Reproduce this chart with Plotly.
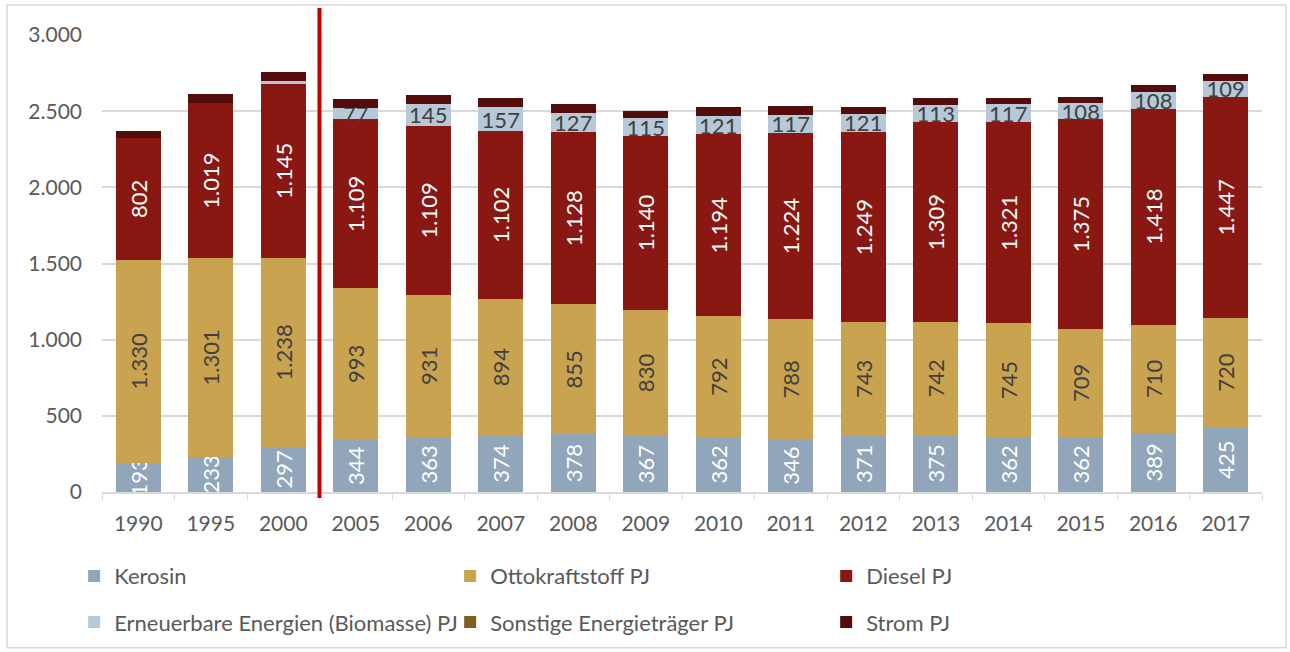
import plotly.graph_objects as go

# Jahre und Energieträger (PJ)
years = ['1990', '1995', '2000', '2005', '2006', '2007', '2008', '2009',
         '2010', '2011', '2012', '2013', '2014', '2015', '2016', '2017']

kerosin = [193, 233, 297, 344, 363, 374, 378, 367, 362, 346, 371, 375, 362, 362, 389, 425]
otto = [1330, 1301, 1238, 993, 931, 894, 855, 830, 792, 788, 743, 742, 745, 709, 710, 720]
diesel = [802, 1019, 1145, 1109, 1109, 1102, 1128, 1140, 1194, 1224, 1249, 1309, 1321, 1375, 1418, 1447]
erneuerbar = [0, 0, 15, 77, 145, 157, 127, 115, 121, 117, 121, 113, 117, 108, 108, 109]
sonstige = [0, 0, 0, 0, 0, 0, 0, 0, 0, 0, 0, 0, 0, 0, 0, 0]
strom = [46, 59, 59, 59, 59, 59, 59, 46, 59, 59, 46, 46, 39, 39, 46, 46]

# Labels for Erneuerbare only from 2005 onwards
erneuerbar_text = ['' if y in ('1990', '1995', '2000') else f'{v}' for y, v in zip(years, erneuerbar)]

FONT = 'Lato'
GREY = '#595959'
DARK = '#404040'
LABEL_SIZE = 22
TICK_SIZE = 21

fig = go.Figure()

series = [
  ('Kerosin', kerosin, '#91A5BB', 'white'),
  ('Ottokraftstoff PJ', otto, '#C9A34F', DARK),
  ('Diesel PJ', diesel, '#8A1812', 'white'),
]
for name, vals, color, tcolor in series:
  fig.add_trace(go.Bar(
    x=years, y=vals, name=name, legend='legend',
    marker=dict(color=color, line=dict(width=0)),
    texttemplate='%{y:,.0f}', textposition='inside', insidetextanchor='middle',
    textangle=-90, constraintext='none', cliponaxis=False,
    textfont=dict(family=FONT, size=LABEL_SIZE, color=tcolor)
  ))

fig.add_trace(go.Bar(
  x=years, y=erneuerbar, name='Erneuerbare Energien (Biomasse) PJ', legend='legend2',
  marker=dict(color='#B7C9D9', line=dict(width=0)),
  text=erneuerbar_text, textposition='inside', insidetextanchor='middle',
  textangle=0, constraintext='none', cliponaxis=False,
  textfont=dict(family=FONT, size=LABEL_SIZE, color=DARK)
))
fig.add_trace(go.Bar(
  x=years, y=sonstige, name='Sonstige Energieträger PJ', legend='legend2',
  marker=dict(color='#7F6126', line=dict(width=0)), textposition='none', cliponaxis=False
))
fig.add_trace(go.Bar(
  x=years, y=strom, name='Strom PJ', legend='legend2',
  marker=dict(color='#540D0B', line=dict(width=0)), textposition='none', cliponaxis=False
))

legend_common = dict(
  orientation='h', x=-0.024, xanchor='left', yanchor='middle',
  traceorder='normal', entrywidth=331, entrywidthmode='pixels', itemclick=False,
  font=dict(family=FONT, size=22, color=GREY), bgcolor='rgba(0,0,0,0)'
)

fig.update_layout(
  width=1290, height=652,
  barmode='stack', bargap=0.38,
  separators=',.',
  plot_bgcolor='white', paper_bgcolor='white',
  margin=dict(l=102, r=28, t=35, b=160, autoexpand=False),
  font=dict(family=FONT, size=TICK_SIZE, color=GREY),
  legend=dict(legend_common, y=-0.184),
  legend2=dict(legend_common, y=-0.285),
  xaxis=dict(
    type='category', showline=True, linecolor='#D9D9D9', linewidth=1.5,
    ticks='outside', tickson='boundaries', ticklen=6, tickcolor='#D9D9D9',
    ticklabelstandoff=12,
    tickfont=dict(family=FONT, size=TICK_SIZE, color=GREY), showgrid=False
  ),
  yaxis=dict(
    range=[0, 3000], dtick=500, tickformat=',.0f',
    showgrid=True, gridcolor='#D9D9D9', gridwidth=1.5, zeroline=False,
    ticklabelstandoff=19,
    tickfont=dict(family=FONT, size=TICK_SIZE, color=GREY)
  ),
  shapes=[
    # red separator between 2000 and 2005
    dict(type='line', xref='x', yref='paper', x0=2.5, x1=2.5, y0=-0.013, y1=1.059,
         line=dict(color='#C00000', width=4)),
    # chart border
    dict(type='rect', xref='paper', yref='paper', x0=-0.0819, x1=1.0207, y0=-0.341, y1=1.0656,
         line=dict(color='#D9D9D9', width=1.5), layer='below')
  ]
)

# page body has a default 8px margin; drop it so the figure sits at the window origin
fig.write_html("out.html", config={'displayModeBar': False},
               post_script="document.body.style.margin='0px';")
